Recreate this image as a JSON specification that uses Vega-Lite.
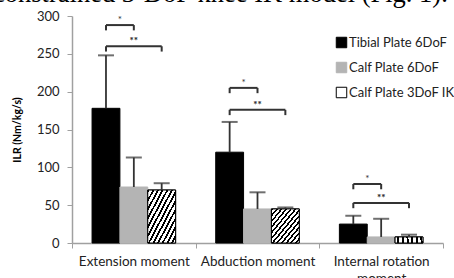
{
  "$schema": "https://vega.github.io/schema/vega-lite/v6.json",
  "autosize": {"type": "none"},
  "width": 371,
  "height": 227,
  "padding": {"left": 72, "top": 16, "right": 11, "bottom": 35},
  "background": "white",
  "title": {"text": "constrained 3-DoF knee IK model (Fig. 1).", "anchor": "start", "frame": "group", "font": "Liberation Serif", "fontSize": 26.5, "fontWeight": "normal", "color": "#000", "baseline": "alphabetic", "offset": 0, "dx": -79, "dy": 18},
  "config": {"view": {"stroke": null}, "font": "Lato",
    "axisY": {"tickCount": 7, "grid": false, "labelFontSize": 13, "labelColor": "#222", "labelPadding": 8, "domainColor": "#a0a0a0", "domainWidth": 1.5, "tickColor": "#a0a0a0", "tickSize": 5, "titleFontSize": 10.5, "titleFontWeight": "bold", "titleColor": "#000", "titlePadding": 14}},
  "datasets": {
    "bars": [
      {"category": "Extension moment", "series": "Tibial Plate 6DoF", "value": 178, "upper": 248},
      {"category": "Extension moment", "series": "Calf Plate 6DoF", "value": 74, "upper": 113},
      {"category": "Extension moment", "series": "Calf Plate 3DoF IK", "value": 70, "upper": 79},
      {"category": "Abduction moment", "series": "Tibial Plate 6DoF", "value": 120, "upper": 160},
      {"category": "Abduction moment", "series": "Calf Plate 6DoF", "value": 45, "upper": 67},
      {"category": "Abduction moment", "series": "Calf Plate 3DoF IK", "value": 45, "upper": 47},
      {"category": "Internal rotation moment", "series": "Tibial Plate 6DoF", "value": 25, "upper": 36},
      {"category": "Internal rotation moment", "series": "Calf Plate 6DoF", "value": 8, "upper": 32},
      {"category": "Internal rotation moment", "series": "Calf Plate 3DoF IK", "value": 8, "upper": 11}
    ],
    "brackets": [
      {"category": "Extension moment", "bracket": "e1", "sig": "*", "series": "Tibial Plate 6DoF", "level": 288},
      {"category": "Extension moment", "bracket": "e1", "sig": "*", "series": "Calf Plate 6DoF", "level": 288},
      {"category": "Extension moment", "bracket": "e2", "sig": "**", "series": "Tibial Plate 6DoF", "level": 260},
      {"category": "Extension moment", "bracket": "e2", "sig": "**", "series": "Calf Plate 3DoF IK", "level": 260},
      {"category": "Abduction moment", "bracket": "a1", "sig": "*", "series": "Tibial Plate 6DoF", "level": 205},
      {"category": "Abduction moment", "bracket": "a1", "sig": "*", "series": "Calf Plate 6DoF", "level": 205},
      {"category": "Abduction moment", "bracket": "a2", "sig": "**", "series": "Tibial Plate 6DoF", "level": 176},
      {"category": "Abduction moment", "bracket": "a2", "sig": "**", "series": "Calf Plate 3DoF IK", "level": 176},
      {"category": "Internal rotation moment", "bracket": "i1", "sig": "*", "series": "Tibial Plate 6DoF", "level": 78},
      {"category": "Internal rotation moment", "bracket": "i1", "sig": "*", "series": "Calf Plate 6DoF", "level": 78},
      {"category": "Internal rotation moment", "bracket": "i2", "sig": "**", "series": "Tibial Plate 6DoF", "level": 53},
      {"category": "Internal rotation moment", "bracket": "i2", "sig": "**", "series": "Calf Plate 3DoF IK", "level": 53}
    ]
  },
  "encoding": {
    "x": {"field": "category", "type": "nominal", "sort": ["Extension moment", "Abduction moment", "Internal rotation moment"],
      "scale": {"paddingInner": 0, "paddingOuter": 0},
      "axis": {"title": null, "labelAngle": 0, "labelFontSize": 13.5, "labelColor": "#222", "domainColor": "#a0a0a0", "domainWidth": 1.5, "tickColor": "#a0a0a0", "tickSize": 5, "tickBand": "extent", "labelPadding": 6, "labelLineHeight": 17,
        "labelExpr": "datum.label == 'Internal rotation moment' ? ['Internal rotation', 'moment'] : datum.label"}
    },
    "xOffset": {"field": "series", "type": "nominal", "scale": {"domain": ["Tibial Plate 6DoF", "Calf Plate 6DoF", "Calf Plate 3DoF IK"], "paddingInner": 0, "paddingOuter": 0.72}}
  },
  "layer": [
    {
      "data": {"name": "bars"},
      "mark": {"type": "bar", "strokeWidth": 1},
      "encoding": {
        "y": {"field": "value", "type": "quantitative", "scale": {"domain": [0, 300]}, "axis": {"title": "ILR (Nm/kg/s)"}},
        "fill": {"field": "series", "type": "nominal",
          "scale": {"domain": ["Tibial Plate 6DoF", "Calf Plate 6DoF", "Calf Plate 3DoF IK"], "range": ["#000000", "#b4b4b4", "#ffffff"]},
          "legend": {"title": null, "orient": "none", "legendX": 263, "legendY": 20, "symbolType": "square", "symbolSize": 110, "symbolStrokeWidth": 1, "labelFontSize": 13, "labelColor": "#222", "labelOffset": 1, "rowPadding": 10, "symbolOpacity": 1,
            "encode": {"symbols": {"update": {"fill": [
              {"test": "datum.value === 'Calf Plate 3DoF IK'", "value": {"gradient": "linear", "x1": 0, "y1": 0, "x2": 1, "y2": 1, "stops": [
                {"offset": 0, "color": "#000"}, {"offset": 0.1, "color": "#000"}, {"offset": 0.1, "color": "#fff"}, {"offset": 0.25, "color": "#fff"},
                {"offset": 0.25, "color": "#000"}, {"offset": 0.4, "color": "#000"}, {"offset": 0.4, "color": "#fff"}, {"offset": 0.5, "color": "#fff"},
                {"offset": 0.5, "color": "#000"}, {"offset": 0.65, "color": "#000"}, {"offset": 0.65, "color": "#fff"}, {"offset": 0.75, "color": "#fff"},
                {"offset": 0.75, "color": "#000"}, {"offset": 0.9, "color": "#000"}, {"offset": 0.9, "color": "#fff"}, {"offset": 1, "color": "#fff"}
              ]}},
              {"scale": "fill", "field": "value"}
            ]}}}}},
        "stroke": {"field": "series", "type": "nominal",
          "scale": {"domain": ["Tibial Plate 6DoF", "Calf Plate 6DoF", "Calf Plate 3DoF IK"], "range": ["#000000", "#b4b4b4", "#000000"]}}
      }
    },
    {
      "data": {"name": "bars"},
      "transform": [{"filter": "datum.series == 'Calf Plate 3DoF IK'"}],
      "mark": {"type": "bar", "stroke": "#000", "strokeWidth": 1,
        "fill": {"gradient": "linear", "x1": 0, "y1": 0, "x2": 1, "y2": 1, "stops": [
          {"offset": 0, "color": "#000"}, {"offset": 0.035, "color": "#000"}, {"offset": 0.035, "color": "#fff"}, {"offset": 0.0833, "color": "#fff"},
          {"offset": 0.0833, "color": "#000"}, {"offset": 0.1183, "color": "#000"}, {"offset": 0.1183, "color": "#fff"}, {"offset": 0.1667, "color": "#fff"},
          {"offset": 0.1667, "color": "#000"}, {"offset": 0.2017, "color": "#000"}, {"offset": 0.2017, "color": "#fff"}, {"offset": 0.25, "color": "#fff"},
          {"offset": 0.25, "color": "#000"}, {"offset": 0.285, "color": "#000"}, {"offset": 0.285, "color": "#fff"}, {"offset": 0.3333, "color": "#fff"},
          {"offset": 0.3333, "color": "#000"}, {"offset": 0.3683, "color": "#000"}, {"offset": 0.3683, "color": "#fff"}, {"offset": 0.4167, "color": "#fff"},
          {"offset": 0.4167, "color": "#000"}, {"offset": 0.4517, "color": "#000"}, {"offset": 0.4517, "color": "#fff"}, {"offset": 0.5, "color": "#fff"},
          {"offset": 0.5, "color": "#000"}, {"offset": 0.535, "color": "#000"}, {"offset": 0.535, "color": "#fff"}, {"offset": 0.5833, "color": "#fff"},
          {"offset": 0.5833, "color": "#000"}, {"offset": 0.6183, "color": "#000"}, {"offset": 0.6183, "color": "#fff"}, {"offset": 0.6667, "color": "#fff"},
          {"offset": 0.6667, "color": "#000"}, {"offset": 0.7017, "color": "#000"}, {"offset": 0.7017, "color": "#fff"}, {"offset": 0.75, "color": "#fff"},
          {"offset": 0.75, "color": "#000"}, {"offset": 0.785, "color": "#000"}, {"offset": 0.785, "color": "#fff"}, {"offset": 0.8333, "color": "#fff"},
          {"offset": 0.8333, "color": "#000"}, {"offset": 0.8683, "color": "#000"}, {"offset": 0.8683, "color": "#fff"}, {"offset": 0.9167, "color": "#fff"},
          {"offset": 0.9167, "color": "#000"}, {"offset": 0.9517, "color": "#000"}, {"offset": 0.9517, "color": "#fff"}, {"offset": 1, "color": "#fff"}
        ]}},
      "encoding": {"y": {"field": "value", "type": "quantitative"}}
    },
    {
      "data": {"name": "bars"},
      "mark": {"type": "rule", "color": "#333", "strokeWidth": 1.8},
      "encoding": {"y": {"field": "value", "type": "quantitative"}, "y2": {"field": "upper"}}
    },
    {
      "data": {"name": "bars"},
      "mark": {"type": "tick", "color": "#333", "size": 16, "thickness": 2, "orient": "horizontal"},
      "encoding": {"y": {"field": "upper", "type": "quantitative"}}
    },
    {
      "data": {"name": "brackets"},
      "mark": {"type": "line", "color": "#333", "strokeWidth": 2},
      "encoding": {"y": {"field": "level", "type": "quantitative"}, "detail": {"field": "bracket"}}
    },
    {
      "data": {"name": "brackets"},
      "transform": [{"calculate": "datum.level - 7", "as": "drop"}],
      "mark": {"type": "rule", "color": "#333", "strokeWidth": 2},
      "encoding": {"y": {"field": "level", "type": "quantitative"}, "y2": {"field": "drop"}}
    },
    {
      "data": {"name": "brackets"},
      "transform": [{"filter": "datum.sig == '*' && datum.series == 'Tibial Plate 6DoF'"}],
      "mark": {"type": "text", "fontSize": 10, "color": "#333", "dx": 14, "dy": -2, "baseline": "alphabetic"},
      "encoding": {"y": {"field": "level", "type": "quantitative"}, "text": {"field": "sig"}}
    },
    {
      "data": {"name": "brackets"},
      "transform": [{"filter": "datum.sig == '**'"}, {"calculate": "'Calf Plate 6DoF'", "as": "mid"}],
      "mark": {"type": "text", "fontSize": 10, "color": "#333", "dy": -2, "baseline": "alphabetic"},
      "encoding": {"xOffset": {"field": "mid", "type": "nominal"}, "y": {"field": "level", "type": "quantitative"}, "text": {"field": "sig"}, "detail": {"field": "bracket"}}
    }
  ]
}
